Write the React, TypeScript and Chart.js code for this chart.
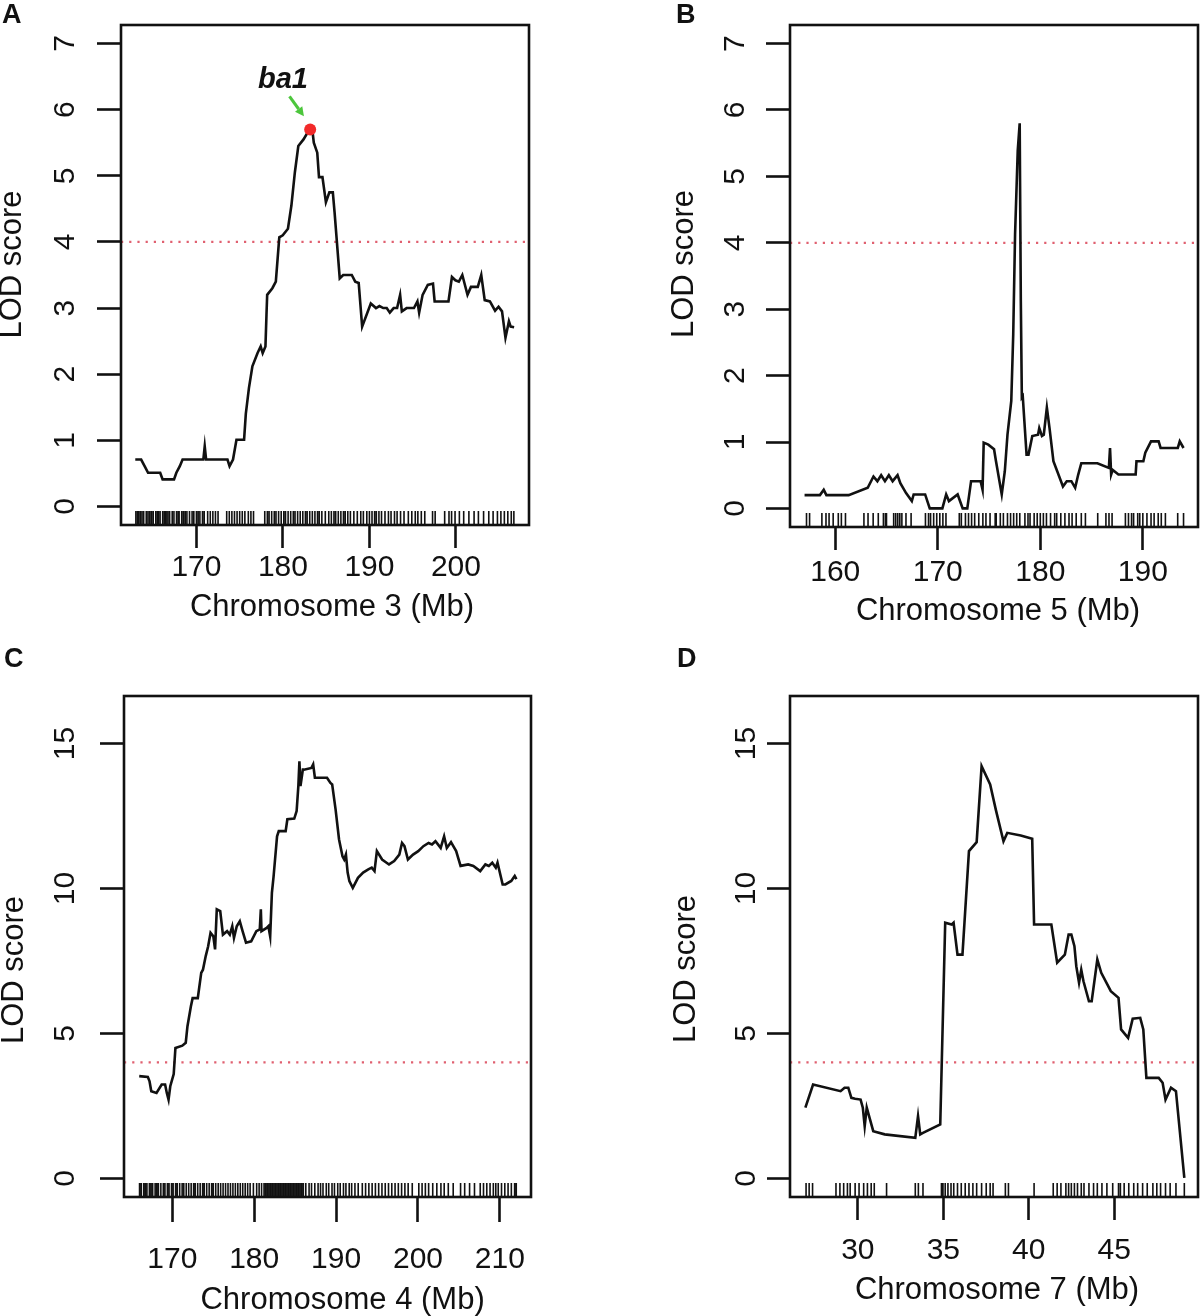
import React, { useEffect, useRef } from 'react';
import { Chart, registerables } from 'chart.js';

Chart.register(...registerables);

const FONT = '"Liberation Sans", Arial, Helvetica, sans-serif';

// ---------------- Panel A : Chromosome 3 ----------------
const chr3Pos = [162.93, 163.61, 164.01, 164.41, 165.81, 166.09, 167.41, 167.68, 168.08, 168.4, 170.8, 170.96, 171.12, 173.59, 173.83, 174.23, 174.63, 175.51, 175.71, 176.07, 176.47, 177.07, 177.43, 177.66, 177.98, 178.1, 178.18, 178.78, 179.18, 179.58, 179.98, 180.58, 180.98, 181.38, 181.78, 182.38, 182.97, 183.37, 183.57, 183.97, 184.17, 184.57, 184.97, 185.37, 185.77, 185.97, 186.57, 186.97, 187.96, 188.36, 188.76, 189.16, 190.16, 190.76, 191.16, 191.6, 192.0, 192.36, 192.8, 193.2, 193.55, 193.75, 194.3, 194.8, 195.15, 195.55, 195.75, 196.15, 196.75, 197.35, 197.54, 199.14, 199.54, 199.94, 200.34, 200.74, 201.34, 201.74, 202.53, 202.93, 203.33, 203.93, 204.53, 204.93, 205.33, 205.73, 206.13, 206.33, 206.73];
const chr3Lod = [0.71, 0.71, 0.61, 0.51, 0.51, 0.41, 0.41, 0.51, 0.61, 0.71, 0.71, 0.91, 0.71, 0.71, 0.61, 0.71, 1.01, 1.01, 1.4, 1.79, 2.12, 2.32, 2.42, 2.32, 2.42, 2.9, 3.2, 3.3, 3.4, 4.07, 4.1, 4.2, 4.55, 5.05, 5.45, 5.55, 5.68, 5.73, 5.5, 5.35, 4.98, 4.98, 4.6, 4.75, 4.75, 4.45, 3.45, 3.5, 3.5, 3.4, 3.38, 2.72, 3.07, 3.0, 3.03, 3.0, 3.0, 2.93, 3.0, 3.0, 3.2, 2.95, 3.0, 3.0, 3.0, 3.1, 2.93, 3.2, 3.35, 3.37, 3.1, 3.1, 3.47, 3.42, 3.4, 3.5, 3.2, 3.32, 3.32, 3.5, 3.12, 3.1, 2.96, 3.02, 2.95, 2.55, 2.8, 2.72, 2.71];
const chr3Markers = [163.0, 163.2, 163.3, 163.5, 163.7, 163.9, 164.2, 164.4, 164.6, 164.8, 165.0, 165.3, 165.5, 165.6, 165.8, 166.1, 166.3, 166.4, 166.5, 166.7, 166.9, 167.2, 167.4, 167.7, 167.9, 168.0, 168.3, 168.5, 168.7, 168.9, 169.2, 169.5, 169.7, 170.0, 170.2, 170.4, 170.7, 170.9, 171.3, 171.6, 171.9, 172.2, 172.5, 173.5, 173.8, 174.1, 174.4, 174.7, 175.0, 175.3, 175.6, 176.0, 176.3, 176.6, 177.9, 178.2, 178.4, 178.7, 179.0, 179.2, 179.5, 179.8, 180.1, 180.3, 180.6, 180.9, 181.2, 181.4, 181.7, 182.0, 182.3, 182.6, 182.8, 183.1, 183.4, 183.7, 184.0, 184.2, 184.5, 184.9, 185.3, 185.6, 185.9, 186.1, 186.4, 186.7, 187.0, 187.2, 187.5, 187.8, 188.2, 188.6, 189.0, 189.3, 189.7, 190.0, 190.3, 190.6, 190.8, 191.1, 191.4, 191.8, 192.2, 192.5, 192.9, 193.2, 193.6, 194.0, 194.5, 194.9, 195.3, 195.6, 196.0, 196.4, 197.3, 197.6, 198.7, 199.2, 199.5, 199.9, 200.4, 200.9, 201.5, 202.1, 202.6, 203.2, 203.8, 204.3, 204.8, 205.2, 205.6, 206.0, 206.4, 206.7];
const chr3Ticks = [170, 180, 190, 200];

// ---------------- Panel B : Chromosome 5 ----------------
const chr5Pos = [157.01, 158.51, 158.88, 159.14, 161.31, 163.17, 163.73, 164.11, 164.48, 164.85, 165.23, 165.6, 166.08, 166.35, 166.91, 167.47, 167.65, 168.77, 169.22, 170.45, 170.82, 171.09, 171.94, 172.43, 172.88, 173.25, 174.18, 174.37, 174.48, 174.93, 175.49, 175.68, 176.24, 176.54, 176.8, 177.17, 177.36, 177.54, 177.8, 177.99, 178.1, 178.2, 178.29, 178.36, 178.66, 178.85, 179.22, 179.78, 179.9, 180.16, 180.34, 180.64, 180.9, 181.28, 181.65, 182.21, 182.58, 183.03, 183.4, 183.7, 184.0, 185.57, 186.69, 186.8, 186.91, 187.06, 187.62, 189.3, 189.38, 190.05, 190.24, 190.8, 191.54, 191.73, 193.41, 193.6, 193.97];
const chr5Lod = [0.2, 0.2, 0.28, 0.2, 0.2, 0.31, 0.48, 0.41, 0.5, 0.41, 0.5, 0.41, 0.5, 0.38, 0.23, 0.11, 0.21, 0.21, 0.0, 0.0, 0.21, 0.11, 0.21, 0.0, 0.0, 0.41, 0.41, 0.28, 0.99, 0.96, 0.89, 0.71, 0.21, 0.56, 1.11, 1.62, 2.62, 4.13, 5.39, 5.8, 3.13, 1.67, 1.69, 1.52, 0.81, 0.81, 1.09, 1.11, 1.21, 1.09, 1.11, 1.52, 1.21, 0.71, 0.56, 0.33, 0.41, 0.41, 0.31, 0.51, 0.68, 0.68, 0.61, 0.91, 0.51, 0.58, 0.51, 0.51, 0.71, 0.71, 0.84, 1.01, 1.01, 0.91, 0.91, 1.01, 0.91];
const chr5Markers = [157.2, 157.5, 158.7, 159.1, 159.4, 159.8, 160.3, 160.6, 161.0, 162.8, 163.2, 163.7, 164.2, 164.7, 164.9, 165.0, 165.7, 165.9, 166.1, 166.3, 166.5, 166.9, 167.4, 168.8, 169.1, 169.3, 169.6, 169.9, 170.2, 170.5, 170.8, 172.1, 172.3, 172.7, 173.0, 173.3, 173.6, 174.0, 174.4, 174.7, 175.1, 175.6, 175.7, 176.1, 176.4, 176.8, 177.1, 177.4, 177.7, 178.0, 178.5, 178.8, 179.0, 179.4, 179.7, 180.0, 180.3, 180.6, 181.0, 181.4, 181.6, 182.0, 182.4, 182.8, 183.1, 183.5, 184.0, 184.4, 185.6, 186.4, 186.7, 187.0, 188.3, 188.6, 188.9, 189.1, 189.5, 189.7, 190.0, 190.4, 190.8, 191.1, 191.5, 191.8, 192.2, 193.4, 193.97];
const chr5Ticks = [160, 170, 180, 190];

// ---------------- Panel C : Chromosome 4 ----------------
const chr4Pos = [165.96, 167.01, 167.22, 167.43, 168.07, 168.7, 169.12, 169.33, 169.54, 169.75, 170.17, 170.38, 171.22, 171.64, 171.85, 172.27, 172.48, 173.11, 173.53, 173.74, 174.08, 174.37, 174.67, 175.01, 175.22, 175.43, 175.85, 176.18, 176.69, 177.02, 177.32, 177.53, 177.87, 178.24, 178.58, 179.0, 179.63, 180.26, 180.68, 180.81, 180.89, 181.52, 181.73, 181.95, 182.16, 182.37, 182.79, 183.0, 183.84, 184.05, 184.89, 185.18, 185.39, 185.52, 185.65, 185.94, 186.07, 186.99, 187.2, 187.41, 188.89, 189.31, 189.52, 189.94, 190.36, 190.78, 190.99, 191.2, 191.41, 191.62, 192.04, 192.67, 193.3, 193.93, 194.35, 194.69, 194.98, 195.62, 196.46, 197.09, 197.72, 198.05, 198.35, 198.77, 199.4, 200.03, 200.66, 201.29, 201.71, 202.13, 202.77, 203.19, 203.52, 204.03, 204.66, 205.2, 206.13, 206.76, 207.6, 208.23, 208.65, 209.07, 209.5, 209.71, 210.34, 210.67, 211.39, 211.81, 212.02];
const chr4Lod = [3.53, 3.5, 3.35, 3.01, 2.95, 3.24, 3.24, 2.95, 2.72, 3.18, 3.6, 4.5, 4.58, 4.68, 5.25, 5.94, 6.22, 6.22, 7.09, 7.2, 7.67, 8.0, 8.47, 8.35, 7.9, 9.28, 9.22, 8.41, 8.53, 8.41, 8.7, 8.3, 8.7, 8.87, 8.53, 8.13, 8.18, 8.53, 8.59, 9.28, 8.53, 8.64, 8.7, 8.35, 9.85, 10.43, 11.8, 11.98, 11.98, 12.39, 12.41, 12.67, 13.53, 14.39, 13.53, 14.1, 14.1, 14.16, 14.28, 13.82, 13.82, 13.64, 13.59, 12.72, 11.69, 11.11, 11.0, 11.17, 10.55, 10.26, 10.02, 10.37, 10.55, 10.66, 10.72, 10.6, 11.29, 11.0, 10.83, 10.95, 11.17, 11.57, 11.46, 11.0, 11.17, 11.29, 11.46, 11.57, 11.52, 11.63, 11.4, 11.8, 11.4, 11.6, 11.29, 10.78, 10.83, 10.78, 10.6, 10.83, 10.78, 10.89, 10.72, 10.89, 10.14, 10.14, 10.26, 10.43, 10.32];
const chr4Markers = [166.0, 166.2, 166.5, 166.7, 166.9, 167.2, 167.4, 167.6, 167.9, 168.1, 168.3, 168.6, 168.9, 169.1, 169.4, 169.6, 169.9, 170.1, 170.4, 170.6, 170.9, 171.2, 171.4, 171.7, 172.0, 172.3, 172.6, 172.8, 173.1, 173.4, 173.7, 173.9, 174.2, 174.5, 174.8, 175.0, 175.3, 175.6, 175.9, 176.2, 176.5, 176.8, 177.1, 177.4, 177.7, 178.0, 178.3, 178.6, 178.9, 179.2, 179.5, 179.9, 180.3, 180.6, 180.9, 181.2, 181.4, 181.6, 181.8, 182.0, 182.2, 182.4, 182.6, 182.8, 183.0, 183.2, 183.4, 183.6, 183.8, 184.0, 184.2, 184.4, 184.6, 184.8, 185.0, 185.2, 185.4, 185.6, 185.8, 186.0, 186.3, 186.7, 187.0, 187.4, 187.8, 188.1, 188.4, 188.8, 189.1, 189.5, 189.8, 190.2, 190.5, 190.9, 191.2, 191.6, 191.9, 192.3, 192.7, 193.2, 193.6, 194.0, 194.4, 194.8, 195.2, 195.6, 196.0, 196.4, 196.8, 197.2, 197.6, 198.0, 198.4, 198.8, 199.3, 200.1, 200.5, 200.9, 201.3, 201.8, 202.3, 202.8, 203.2, 203.7, 204.3, 205.2, 205.7, 206.3, 206.9, 207.6, 208.0, 208.4, 208.8, 209.2, 209.5, 209.8, 210.2, 210.6, 211.0, 211.4, 211.8, 212.0];
const chr4Ticks = [170, 180, 190, 200, 210];

// ---------------- Panel D : Chromosome 7 ----------------
const chr7Pos = [26.93, 27.38, 28.99, 29.22, 29.44, 29.62, 29.84, 30.16, 30.29, 30.4, 30.52, 30.9, 31.57, 33.36, 33.52, 33.65, 33.81, 34.82, 35.11, 35.49, 35.6, 35.83, 36.12, 36.5, 36.95, 37.24, 37.74, 38.07, 38.52, 38.74, 39.53, 40.2, 40.31, 41.32, 41.66, 42.11, 42.33, 42.49, 42.67, 42.78, 42.94, 43.07, 43.2, 43.52, 43.68, 44.01, 44.24, 44.8, 45.25, 45.4, 45.81, 46.08, 46.52, 46.7, 46.88, 47.6, 47.83, 48.0, 48.32, 48.61, 49.1];
const chr7Lod = [2.44, 3.24, 3.01, 3.13, 3.13, 2.78, 2.75, 2.72, 2.44, 1.8, 2.44, 1.63, 1.52, 1.4, 2.15, 1.52, 1.57, 1.86, 8.82, 8.76, 8.82, 7.72, 7.72, 11.29, 11.6, 14.22, 13.59, 12.72, 11.63, 11.92, 11.83, 11.72, 8.76, 8.76, 7.44, 7.72, 8.41, 8.41, 8.01, 7.32, 6.75, 7.2, 6.8, 6.11, 6.11, 7.55, 7.09, 6.46, 6.23, 5.14, 4.85, 5.51, 5.54, 5.14, 3.47, 3.47, 3.3, 2.72, 3.13, 3.01, 0.02];
const chr7Markers = [26.97, 27.15, 27.35, 28.72, 28.95, 29.17, 29.39, 29.55, 29.84, 30.07, 30.34, 30.56, 30.78, 30.96, 31.68, 33.36, 33.54, 33.81, 34.89, 34.98, 35.11, 35.27, 35.45, 35.61, 35.83, 36.05, 36.28, 36.5, 36.73, 36.95, 37.24, 37.51, 37.74, 37.91, 38.63, 38.81, 40.31, 41.43, 41.66, 41.88, 42.17, 42.33, 42.49, 42.67, 42.85, 43.07, 43.23, 43.52, 43.79, 44.01, 44.28, 44.57, 44.91, 45.25, 45.36, 45.58, 45.85, 46.14, 46.37, 46.66, 46.93, 47.26, 47.49, 47.71, 48.0, 48.27, 48.61, 49.1];
const chr7Ticks = [30, 35, 40, 45];

// ---------------- shared ----------------
const lowLodTicks = [0, 1, 2, 3, 4, 5, 6, 7];
const highLodTicks = [0, 5, 10, 15];
const lodThreshold = 4;
const ba1Peak = { x: 183.15, y: 5.7 };
const ba1Label = { text: 'ba1', x: 180.0, y: 6.45 };
const ba1ArrowFrom = { x: 180.76, y: 6.2 };
const ba1ArrowTo = { x: 182.43, y: 5.9 };

type Panel = {
  letter: string;
  left: number; top: number; w: number; h: number;
  area: { left: number; top: number; right: number; bottom: number };
  xMin: number; xMax: number; yMin: number; yMax: number;
  pos: number[]; lod: number[]; markers: number[];
  xTicks: number[]; yTicks: number[];
  xTitle: string;
  yTickLen: number; xTickLen: number; yPad: number; xPad: number;
  yTitlePos: [number, number]; xTitlePos: [number, number]; letterPos: [number, number];
  peak: boolean;
};

const panels: Panel[] = [
  {
    letter: 'A', left: 0, top: 0, w: 600, h: 640,
    area: { left: 121, top: 25, right: 529, bottom: 525 },
    xMin: 161.28, xMax: 208.45, yMin: -0.28, yMax: 7.28,
    pos: chr3Pos, lod: chr3Lod, markers: chr3Markers, xTicks: chr3Ticks, yTicks: lowLodTicks,
    xTitle: 'Chromosome 3 (Mb)', yTickLen: 24, xTickLen: 23, yPad: 23.2, xPad: 2,
    yTitlePos: [12, 264.5], xTitlePos: [332, 607.5], letterPos: [2, 23], peak: true,
  },
  {
    letter: 'B', left: 600, top: 0, w: 600, h: 640,
    area: { left: 190, top: 25, right: 598, bottom: 527 },
    xMin: 155.59, xMax: 195.38, yMin: -0.28, yMax: 7.28,
    pos: chr5Pos, lod: chr5Lod, markers: chr5Markers, xTicks: chr5Ticks, yTicks: lowLodTicks,
    xTitle: 'Chromosome 5 (Mb)', yTickLen: 24, xTickLen: 23, yPad: 21.7, xPad: 5,
    yTitlePos: [84, 264], xTitlePos: [398, 611], letterPos: [76, 23], peak: false,
  },
  {
    letter: 'C', left: 0, top: 640, w: 600, h: 676,
    area: { left: 124, top: 56, right: 531, bottom: 557 },
    xMin: 164.1, xMax: 213.8, yMin: -0.64, yMax: 16.64,
    pos: chr4Pos, lod: chr4Lod, markers: chr4Markers, xTicks: chr4Ticks, yTicks: highLodTicks,
    xTitle: 'Chromosome 4 (Mb)', yTickLen: 24, xTickLen: 25, yPad: 17.3, xPad: 20,
    yTitlePos: [14, 330], xTitlePos: [342.6, 660], letterPos: [4, 27], peak: false,
  },
  {
    letter: 'D', left: 600, top: 640, w: 600, h: 676,
    area: { left: 190, top: 56, right: 598, bottom: 557 },
    xMin: 26.03, xMax: 49.9, yMin: -0.64, yMax: 16.64,
    pos: chr7Pos, lod: chr7Lod, markers: chr7Markers, xTicks: chr7Ticks, yTicks: highLodTicks,
    xTitle: 'Chromosome 7 (Mb)', yTickLen: 23, xTickLen: 23, yPad: 3.9, xPad: 12.8,
    yTitlePos: [86, 329], xTitlePos: [397, 650], letterPos: [77, 27], peak: false,
  },
];

const INK = '#111';
const LINE_W = 2.6;

function makePlugin(p: Panel) {
  return {
    id: 'panelDecor' + p.letter,
    afterDraw(chart: any) {
      const ctx = chart.ctx as CanvasRenderingContext2D;
      const ca = chart.chartArea;
      const xs = chart.scales.x;
      const ys = chart.scales.y;
      ctx.save();
      // box
      ctx.strokeStyle = INK;
      ctx.lineWidth = LINE_W;
      ctx.strokeRect(ca.left, ca.top, ca.right - ca.left, ca.bottom - ca.top);
      // rug of markers
      ctx.lineWidth = 1.6;
      ctx.beginPath();
      for (const m of p.markers) {
        const px = xs.getPixelForValue(m);
        ctx.moveTo(px, ca.bottom);
        ctx.lineTo(px, ca.bottom - 14);
      }
      ctx.stroke();
      // titles
      ctx.fillStyle = INK;
      ctx.font = `31px ${FONT}`;
      ctx.textAlign = 'center';
      ctx.textBaseline = 'middle';
      ctx.fillText(p.xTitle, p.xTitlePos[0], p.xTitlePos[1]);
      ctx.save();
      ctx.translate(p.yTitlePos[0], p.yTitlePos[1]);
      ctx.rotate(-Math.PI / 2);
      ctx.fillText('LOD score', 0, 0);
      ctx.restore();
      // panel letter
      ctx.font = `bold 27px ${FONT}`;
      ctx.textAlign = 'left';
      ctx.textBaseline = 'alphabetic';
      ctx.fillText(p.letter, p.letterPos[0], p.letterPos[1]);
      // ba1 annotation
      if (p.peak) {
        ctx.font = `italic bold 29px ${FONT}`;
        ctx.textAlign = 'center';
        ctx.textBaseline = 'middle';
        ctx.fillText(ba1Label.text, xs.getPixelForValue(ba1Label.x), ys.getPixelForValue(ba1Label.y));
        const x1 = xs.getPixelForValue(ba1ArrowFrom.x);
        const y1 = ys.getPixelForValue(ba1ArrowFrom.y);
        const x2 = xs.getPixelForValue(ba1ArrowTo.x);
        const y2 = ys.getPixelForValue(ba1ArrowTo.y);
        const ang = Math.atan2(y2 - y1, x2 - x1);
        const hl = 9;
        const hw = 4.5;
        const bx = x2 - hl * Math.cos(ang);
        const by = y2 - hl * Math.sin(ang);
        ctx.strokeStyle = '#4cc63c';
        ctx.fillStyle = '#4cc63c';
        ctx.lineWidth = 3;
        ctx.beginPath();
        ctx.moveTo(x1, y1);
        ctx.lineTo(bx, by);
        ctx.stroke();
        ctx.beginPath();
        ctx.moveTo(x2, y2);
        ctx.lineTo(bx + hw * Math.sin(ang), by - hw * Math.cos(ang));
        ctx.lineTo(bx - hw * Math.sin(ang), by + hw * Math.cos(ang));
        ctx.closePath();
        ctx.fill();
      }
      ctx.restore();
    },
  };
}

function makeConfig(p: Panel): any {
  const datasets: any[] = [
    {
      label: 'threshold',
      data: [{ x: p.xMin, y: lodThreshold }, { x: p.xMax, y: lodThreshold }],
      borderColor: 'rgb(224, 96, 112)',
      borderWidth: 2.2,
      borderDash: [2.2, 6],
      pointRadius: 0,
      order: 3,
    },
    {
      label: 'LOD',
      data: p.pos.map((x, i) => ({ x, y: p.lod[i] })),
      borderColor: INK,
      borderWidth: LINE_W,
      pointRadius: 0,
      tension: 0,
      order: 2,
    },
  ];
  if (p.peak) {
    datasets.push({
      label: 'ba1',
      data: [ba1Peak],
      showLine: false,
      pointRadius: 6,
      pointBackgroundColor: '#f22a2a',
      pointBorderColor: '#f22a2a',
      pointBorderWidth: 0,
      order: 1,
    });
  }
  const tickFont = { family: FONT, size: 30 };
  return {
    type: 'line',
    data: { datasets },
    options: {
      animation: false,
      responsive: false,
      maintainAspectRatio: false,
      events: [],
      layout: { padding: { left: 0, top: p.area.top, right: p.w - p.area.right, bottom: 0 } },
      plugins: { legend: { display: false }, tooltip: { enabled: false }, title: { display: false } },
      scales: {
        x: {
          type: 'linear',
          position: 'bottom',
          min: p.xMin,
          max: p.xMax,
          afterBuildTicks: (s: any) => { s.ticks = p.xTicks.map((v) => ({ value: v })); },
          afterFit: (s: any) => {
            s.height = p.h - p.area.bottom;
            s.paddingLeft = 0; s.paddingRight = 0; s.paddingTop = 0; s.paddingBottom = 0;
          },
          grid: { display: true, drawOnChartArea: false, drawTicks: true, tickLength: p.xTickLen, tickWidth: LINE_W, tickColor: INK },
          border: { display: false },
          ticks: {
            font: tickFont, color: INK, padding: p.xPad, minRotation: 0, maxRotation: 0, autoSkip: false,
            callback: (v: any) => String(v),
          },
        },
        y: {
          type: 'linear',
          position: 'left',
          min: p.yMin,
          max: p.yMax,
          afterBuildTicks: (s: any) => { s.ticks = p.yTicks.map((v) => ({ value: v })); },
          afterFit: (s: any) => {
            s.width = p.area.left;
            s.paddingLeft = 0; s.paddingRight = 0; s.paddingTop = 0; s.paddingBottom = 0;
          },
          grid: { display: true, drawOnChartArea: false, drawTicks: true, tickLength: p.yTickLen, tickWidth: LINE_W, tickColor: INK },
          border: { display: false },
          ticks: {
            font: tickFont, color: INK, padding: p.yPad, minRotation: 90, maxRotation: 90,
            crossAlign: 'center', autoSkip: false,
            callback: (v: any) => String(v),
          },
        },
      },
    },
    plugins: [makePlugin(p)],
  };
}

function PanelChart({ p }: { p: Panel }) {
  const ref = useRef<HTMLCanvasElement | null>(null);
  useEffect(() => {
    if (!ref.current) return;
    const chart = new Chart(ref.current, makeConfig(p));
    return () => chart.destroy();
  }, [p]);
  return (
    <canvas
      ref={ref}
      width={p.w}
      height={p.h}
      style={{ position: 'absolute', left: p.left, top: p.top, width: p.w, height: p.h }}
    />
  );
}

export default function App() {
  return (
    <div style={{ position: 'absolute', left: 0, top: 0, width: 1200, height: 1316, background: '#fff', overflow: 'hidden' }}>
      {panels.map((p) => (
        <PanelChart key={p.letter} p={p} />
      ))}
    </div>
  );
}
